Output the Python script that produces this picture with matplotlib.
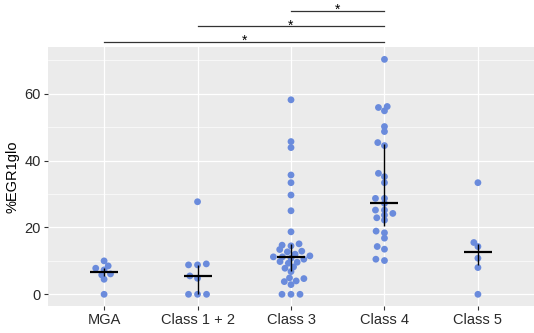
import numpy as np
import matplotlib
matplotlib.use("Agg")
import matplotlib.pyplot as plt
from matplotlib.ticker import MultipleLocator

categories = ["MGA", "Class 1 + 2", "Class 3", "Class 4", "Class 5"]

mga = [10.0, 8.5, 7.8, 7.3, 6.1, 5.8, 4.5, 0.0]
class12 = [27.7, 9.1, 8.8, 8.8, 5.5, 4.8, 0.0, 0.0, 0.0]
class3 = [58.2, 45.7, 43.9, 35.7, 33.4, 29.7, 25.0, 18.7,
          15.1, 14.7, 14.5, 13.4, 12.9, 12.7, 12.0, 11.5, 11.2, 11.2,
          10.8, 10.5, 9.8, 9.6, 9.3, 8.2, 7.8, 6.8, 4.9, 4.7, 4.0, 3.8,
          2.9, 0.0, 0.0, 0.0]
class4 = [70.3, 56.2, 55.9, 54.9, 50.2, 48.7, 45.4, 44.5, 36.2, 35.2,
          33.4, 28.7, 28.7, 27.2, 25.2, 25.2, 24.2, 23.7, 22.9, 22.2,
          18.9, 18.4, 16.8, 14.3, 13.5, 10.5, 10.1]
class5 = [33.4, 15.5, 14.3, 10.8, 8.0, 0.0]
groups = [mga, class12, class3, class4, class5]

# significance comparisons (index pairs) and labels
comparisons = [(0, 3), (1, 3), (2, 3)]
sig_labels = ["*", "*", "*"]
sig_heights = [75.5, 80.2, 84.8]

y_ticks = [0, 20, 40, 60]
y_label = "%EGR1glo"

point_color = "#6A8BDC"

W, H, DPI = 534, 333, 100
fig = plt.figure(figsize=(W / DPI, H / DPI), dpi=DPI)
ax = fig.add_axes([48 / W, 1 - 306 / H, (534 - 48) / W, (306 - 47) / H])
xlim = (-0.6, len(categories) - 0.4)
ylim = (-3.5, 74.0)
ax.set_xlim(*xlim)
ax.set_ylim(*ylim)

# pixel scales of the axes
bbox = ax.get_position()
px_x = bbox.width * W / (xlim[1] - xlim[0])
px_y = bbox.height * H / (ylim[1] - ylim[0])


def beeswarm(vals, dx_px, dy_px):
    # elliptical collision: horizontal spacing dx_px, vertical spacing dy_px
    y = np.asarray(vals, float) * px_y * (dx_px / dy_px)
    d = dx_px
    order = np.argsort(y, kind="stable")
    xs = np.zeros(len(y))
    placed = []
    for i in order:
        cands = [0.0]
        for j in placed:
            dy = abs(y[i] - y[j])
            if dy < d:
                dx = np.sqrt(d * d - dy * dy)
                cands += [xs[j] + dx, xs[j] - dx]
        cands = sorted(cands, key=lambda c: (abs(c), c))
        for c in cands:
            ok = all((c - xs[j]) ** 2 + (y[i] - y[j]) ** 2 >= d * d - 1e-6 for j in placed)
            if ok:
                xs[i] = c
                break
        placed.append(i)
    return xs / px_x


ax.set_facecolor("#EBEBEB")
for s in ax.spines.values():
    s.set_visible(False)
ax.yaxis.set_minor_locator(MultipleLocator(10))
ax.set_yticks(y_ticks)
ax.set_xticks(range(len(categories)))
ax.set_xticklabels(categories)
ax.grid(which="major", color="white", linewidth=0.9)
ax.yaxis.grid(which="minor", color="white", linewidth=0.45)
ax.set_axisbelow(True)
ax.tick_params(axis="both", which="major", length=3, width=0.8, color="#333333",
               labelsize=10.5, labelcolor="#2A2A2A", pad=2)
ax.tick_params(axis="y", which="minor", length=0)
for lab in ax.get_xticklabels() + ax.get_yticklabels():
    lab.set_fontfamily("Liberation Sans")

for k, vals in enumerate(groups):
    offs = beeswarm(vals, 9.0, 4.5)
    ax.scatter(k + offs, vals, s=24, color=point_color, edgecolors="none", zorder=3)
    med = np.median(vals)
    q1, q3 = np.percentile(vals, [25, 75])
    ax.plot([k, k], [q1, q3], color="black", linewidth=1.0, zorder=4, solid_capstyle="butt")
    ax.plot([k - 0.15, k + 0.15], [med, med], color="black", linewidth=1.6, zorder=4,
            solid_capstyle="butt")

for (a, b), lab, h in zip(comparisons, sig_labels, sig_heights):
    ax.plot([a, b], [h, h], color="#333333", linewidth=0.9, clip_on=False)
    ax.text((a + b) / 2, h - 0.9, lab, ha="center", va="baseline", fontsize=10,
            family="Liberation Sans", clip_on=False)

ax.set_ylabel(y_label, fontsize=10.5, family="Liberation Sans", labelpad=4)

fig.savefig("out.png", dpi=DPI)
